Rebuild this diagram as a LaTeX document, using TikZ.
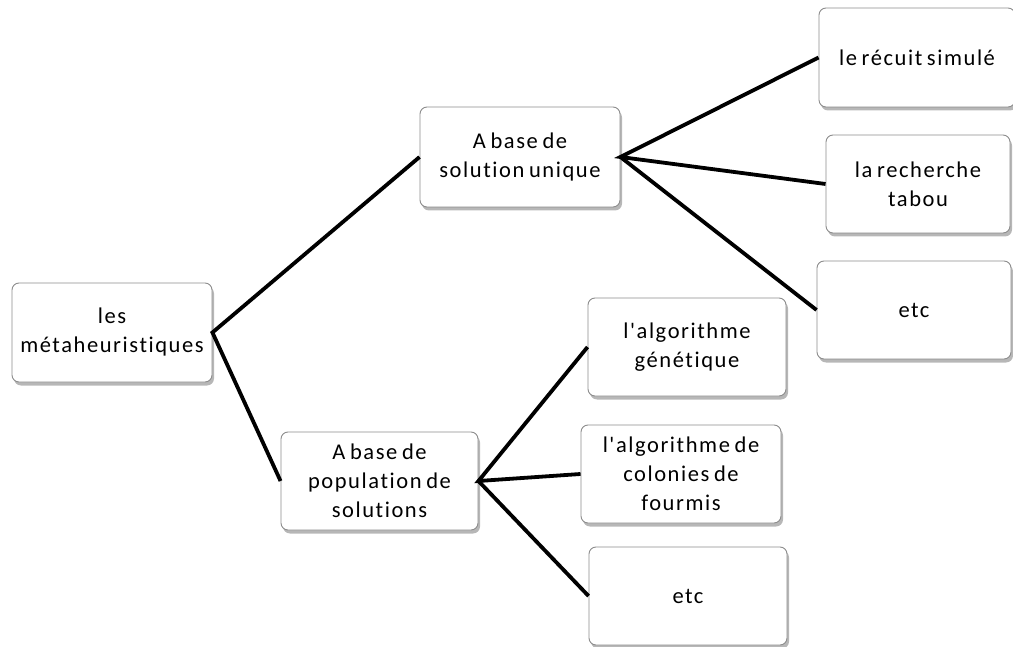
\documentclass[tikz,border=0pt]{standalone}
\usepackage{fontspec}
\newfontfamily\boxfont{Carlito}[Ligatures={NoCommon}, LetterSpace=7, WordSpace=0.7]
\usetikzlibrary{shadows}
\begin{document}
\begin{tikzpicture}[x=1pt,y=-1pt,
  box/.style={draw=black!45, line width=0.9pt, fill=white, rounded corners=7pt,
    align=center, inner sep=0pt,
    font=\boxfont\fontsize{22.5}{29}\selectfont,
    drop shadow={shadow xshift=2pt, shadow yshift=-3.5pt, opacity=0.4, fill=black!70}},
  link/.style={line width=3.8pt, black}]
\useasboundingbox (0,0) rectangle (1013,647);
% column 1
\node[box, minimum width=200pt, minimum height=99pt] (root) at (112,332.5) {les\\métaheuristiques};
% column 2
\node[box, minimum width=200pt, minimum height=100pt] (uni) at (520,157) {A base de\\solution unique};
\node[box, minimum width=197pt, minimum height=98pt] (pop) at (379.5,481) {A base de\\population de\\solutions};
% column 3, single-solution methods
\node[box, minimum width=196pt, minimum height=99pt] (rs) at (917,57.5) {le récuit simulé};
\node[box, minimum width=184pt, minimum height=98pt] (tabou) at (918,184) {la recherche\\tabou};
\node[box, minimum width=194pt, minimum height=98pt] (etcA) at (914,310) {etc};
% column 3, population methods
\node[box, minimum width=198pt, minimum height=98pt] (ag) at (687,347) {l'algorithme\\génétique};
\node[box, minimum width=200pt, minimum height=98pt] (aco) at (681,474) {l'algorithme de\\colonies de\\fourmis};
\node[box, minimum width=198pt, minimum height=98pt] (etcB) at (688,596) {etc};
% connectors
\draw[link] (uni.west) -- (root.east) -- (pop.west);
\draw[link] (rs.west) -- (uni.east) -- (tabou.west);
\draw[link] (uni.east) -- (etcA.west);
\draw[link] (ag.west) -- (pop.east) -- (aco.west);
\draw[link] (pop.east) -- (etcB.west);
\end{tikzpicture}
\end{document}
